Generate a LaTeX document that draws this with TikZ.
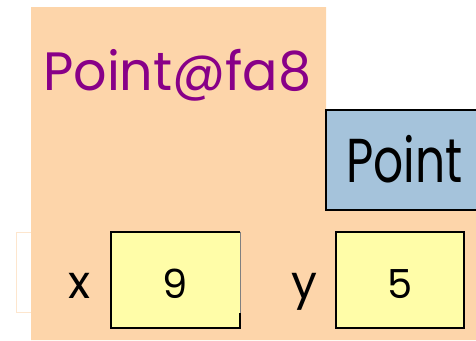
\documentclass[tikz,border=0pt]{standalone}
\usepackage{fontspec}
\setmainfont{Poppins}
\definecolor{peach}{HTML}{FDD5AA}
\definecolor{pale}{HTML}{FDE6CE}
\definecolor{cellyellow}{HTML}{FFFDA8}
\definecolor{classblue}{HTML}{A5C3DB}
\definecolor{refpurple}{HTML}{880088}
\tikzset{
  cell/.style={draw=black, line width=2pt, fill=cellyellow},
  classbox/.style={draw=black, line width=2pt, fill=classblue},
}
\begin{document}
\begin{tikzpicture}[x=1pt,y=-1pt]
\useasboundingbox (0,0) rectangle (476,340);
% faint frame behind the object
\draw[pale, line width=1pt] (16,232) rectangle (40,312);
% object body
\fill[peach] (31,7) -- (326,7) -- (326,110) -- (476,110) -- (476,340) -- (31,340) -- cycle;
% class tag
\draw[classbox] (326,110) rectangle (480,210);
\node[anchor=base west, inner sep=0pt, xscale=0.76, font=\fontsize{62}{62}\selectfont] (cls) at (346,182) {Point};
% reference name
\node[anchor=base west, inner sep=0pt, text=refpurple, xscale=0.97, font=\fontsize{54}{54}\selectfont] (ref) at (43,90) {Point@fa8};
% field x
\fill[cellyellow] (111,232) rectangle (240,328);
\draw[black, line width=2pt] (240,313) -- (240,328) -- (111,328) -- (111,232) -- (240,232);
\draw[gray, line width=0.8pt] (240,232) -- (240,313);
\node[inner sep=0pt, font=\fontsize{40}{40}\selectfont] (v9) at (175.5,284) {9};
\node[anchor=base, inner sep=0pt, font=\fontsize{46}{46}\selectfont] (fx) at (80,298) {x};
% field y
\draw[cell] (336,232) rectangle (464,328);
\node[inner sep=0pt, font=\fontsize{40}{40}\selectfont] (v5) at (400,284) {5};
\node[anchor=base, inner sep=0pt, font=\fontsize{46}{46}\selectfont] (fy) at (304.5,298) {y};
\end{tikzpicture}
\end{document}
